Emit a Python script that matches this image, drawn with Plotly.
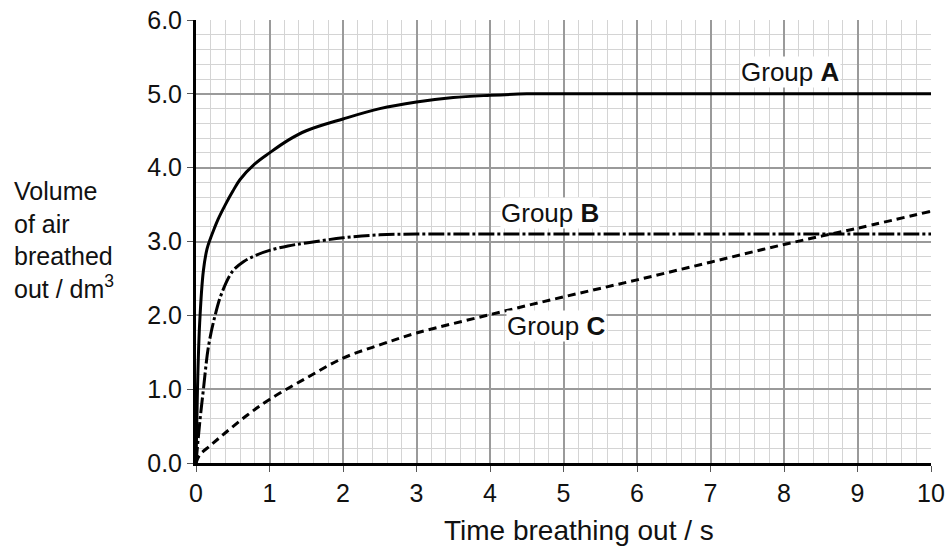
import plotly.graph_objects as go

# Group A
a_x = [0, 0.02, 0.05, 0.1, 0.15, 0.2, 0.25, 0.3, 0.4, 0.5, 0.6, 0.8, 1.0, 1.25, 1.5, 2.0, 2.5, 3.0, 3.5, 4.0, 4.5, 5.0, 6.0, 8.0, 10.0]
a_y = [0, 1.0, 1.9, 2.6, 2.9, 3.05, 3.18, 3.3, 3.5, 3.68, 3.84, 4.05, 4.2, 4.37, 4.5, 4.66, 4.8, 4.89, 4.95, 4.98, 5.0, 5.0, 5.0, 5.0, 5.0]

# Group B
b_x = [0, 0.05, 0.1, 0.17, 0.26, 0.35, 0.5, 0.65, 0.83, 1.0, 1.25, 1.5, 2.0, 2.5, 3.0, 4.0, 6.0, 8.0, 10.0]
b_y = [0, 0.54, 0.99, 1.58, 2.0, 2.3, 2.6, 2.73, 2.82, 2.88, 2.94, 2.98, 3.05, 3.09, 3.1, 3.1, 3.1, 3.1, 3.1]

# Group C
c_x = [0, 0.05, 0.2, 0.4, 0.7, 1.0, 1.5, 2.0, 2.5, 3.0, 4.0, 5.0, 6.0, 7.0, 8.0, 9.0, 10.0]
c_y = [0, 0.11, 0.24, 0.41, 0.65, 0.86, 1.15, 1.42, 1.6, 1.76, 2.01, 2.25, 2.48, 2.72, 2.96, 3.18, 3.41]

x_ticks = [0, 1, 2, 3, 4, 5, 6, 7, 8, 9, 10]
y_ticks = [0.0, 1.0, 2.0, 3.0, 4.0, 5.0, 6.0]
y_tick_text = ["0.0", "1.0", "2.0", "3.0", "4.0", "5.0", "6.0"]

labels = ["Group <b>A</b>", "Group <b>B</b>", "Group <b>C</b>"]
label_x = [8.09, 4.82, 4.9]
label_y = [5.29, 3.39, 1.86]

FONT = "Liberation Sans, Arial, sans-serif"

fig = go.Figure()
fig.add_trace(go.Scatter(x=a_x, y=a_y, mode="lines",
                         line=dict(color="black", width=3, shape="spline", smoothing=1.0)))
fig.add_trace(go.Scatter(x=b_x, y=b_y, mode="lines",
                         line=dict(color="black", width=3, shape="spline", smoothing=1.0,
                                   dash="16px,3px,3px,3px")))
fig.add_trace(go.Scatter(x=c_x, y=c_y, mode="lines",
                         line=dict(color="black", width=3, shape="spline", smoothing=1.0,
                                   dash="8px,5px")))

for t, lx, ly in zip(labels, label_x, label_y):
    fig.add_annotation(x=lx, y=ly, text=t, showarrow=False, xref="x", yref="y",
                       font=dict(size=26, color="#111", family=FONT),
                       bgcolor="white", borderpad=0)

fig.add_annotation(xref="paper", yref="paper", x=-0.2503, y=0.5045, xanchor="left", yanchor="middle",
                   align="left", showarrow=False,
                   text="Volume<br>of air<br>breathed<br>out / dm<sup>3</sup>",
                   font=dict(size=25, color="#111", family=FONT))
fig.add_annotation(xref="paper", yref="paper", x=0.521, y=-0.152, xanchor="center", yanchor="middle",
                   showarrow=False, text="Time breathing out / s",
                   font=dict(size=28, color="#111", family=FONT))

fig.update_layout(
    width=951, height=550,
    margin=dict(l=196, r=20, t=20, b=87),
    paper_bgcolor="white", plot_bgcolor="white",
    showlegend=False,
    font=dict(family=FONT, color="#111"),
    xaxis=dict(range=[0, 10], tickvals=x_ticks, ticks="outside", ticklen=6, tickcolor="#555",
               showgrid=True, gridcolor="#9a9a9a", gridwidth=1.5,
               minor=dict(dtick=0.2, showgrid=True, gridcolor="#d4d4d4", gridwidth=1),
               showline=True, linecolor="black", linewidth=3,
               tickfont=dict(size=25), zeroline=False, fixedrange=True, automargin=False),
    yaxis=dict(range=[0, 6], tickvals=y_ticks, ticktext=y_tick_text, ticks="outside", ticklen=6,
               tickcolor="#555",
               showgrid=True, gridcolor="#9a9a9a", gridwidth=1.5,
               minor=dict(dtick=0.2, showgrid=True, gridcolor="#d4d4d4", gridwidth=1),
               showline=True, linecolor="black", linewidth=3,
               tickfont=dict(size=25), zeroline=False, fixedrange=True, automargin=False),
)

fig.write_html("out.html", config={"displayModeBar": False},
               post_script="document.body.style.margin='0';")
